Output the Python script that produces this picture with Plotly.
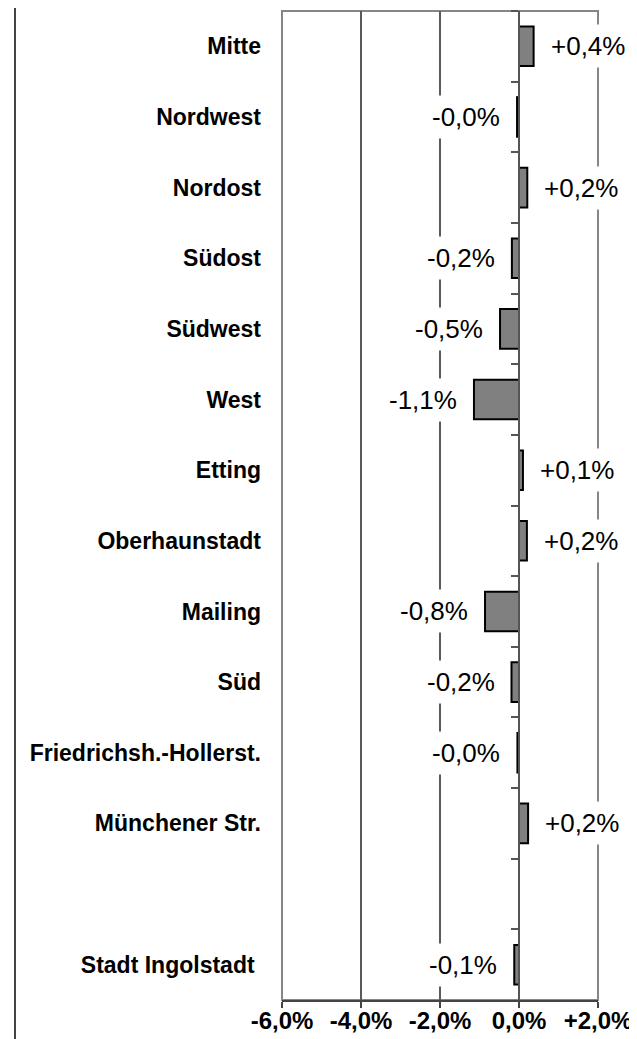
import plotly.graph_objects as go

categories = ["Mitte", "Nordwest", "Nordost", "Südost", "Südwest", "West", "Etting",
              "Oberhaunstadt", "Mailing", "Süd", "Friedrichsh.-Hollerst.",
              "Münchener Str.", " ", "Stadt Ingolstadt\u00a0"]
values = [0.37, -0.05, 0.21, -0.18, -0.48, -1.14, 0.10, 0.20, -0.86, -0.19, -0.04,
          0.23, None, -0.12]
labels = ["+0,4%", "-0,0%", "+0,2%", "-0,2%", "-0,5%", "-1,1%", "+0,1%", "+0,2%",
          "-0,8%", "-0,2%", "-0,0%", "+0,2%", "", "-0,1%"]
tick_vals = [-6, -4, -2, 0, 2]
tick_text = ["-6,0%", "-4,0%", "-2,0%", "0,0%", "+2,0%"]

FONT = "Liberation Sans, Arial, sans-serif"
n = len(categories)

# the page body has an 8px margin; the figure starts at (8, 8) in the window
W, H = 629, 1031
ML, MR, MT, MB = 274, 39, 3, 39
plot_w = W - ML - MR

fig = go.Figure()
fig.add_trace(go.Bar(
    x=values, y=categories, orientation="h",
    marker=dict(color="#808080", line=dict(color="black", width=2)),
    width=0.56, hoverinfo="skip", showlegend=False,
))
fig.add_trace(go.Scatter(
    x=[0] * n, y=categories, yaxis="y2", mode="markers",
    marker=dict(opacity=0), hoverinfo="skip", showlegend=False,
))

for c, v, t in zip(categories, values, labels):
    if v is None:
        continue
    pos = v >= 0
    fig.add_annotation(
        x=v, y=c, xref="x", yref="y", text=t, showarrow=False,
        xanchor="left" if pos else "right", xshift=10 if pos else -10,
        bgcolor="white", borderpad=6,
        font=dict(family=FONT, size=26, color="black"),
    )

# plot border
fig.add_shape(type="rect", xref="paper", yref="paper", x0=0, x1=1, y0=0, y1=1,
              line=dict(color="#868686", width=2), layer="below")
# stray vertical line at the left edge of the image
sx = (7 - ML) / plot_w
fig.add_shape(type="line", xref="paper", yref="paper", x0=sx, x1=sx,
              y0=-0.05, y1=1.02, line=dict(color="#444444", width=2))

fig.update_layout(
    width=W, height=H,
    margin=dict(l=ML, r=MR, t=MT, b=MB, autoexpand=False),
    plot_bgcolor="white", paper_bgcolor="white",
    bargap=0.44,
    xaxis=dict(
        range=[-6, 2], tickvals=tick_vals, ticktext=tick_text,
        showgrid=True, gridcolor="#5a5a5a", gridwidth=1.5,
        zeroline=False, showline=True, linecolor="#444444", linewidth=2,
        ticks="outside", ticklen=6, tickcolor="#444444", tickwidth=1.5,
        tickfont=dict(family=FONT, size=24, color="black", weight="bold"),
        automargin=False, ticklabeloverflow="allow", ticklabelstandoff=-8,
        fixedrange=True,
    ),
    yaxis=dict(
        type="category", categoryorder="array", categoryarray=categories,
        range=[n - 0.5, -0.5], showgrid=False, zeroline=False, showline=False,
        ticks="", ticklabelstandoff=20, automargin=False,
        tickfont=dict(family=FONT, size=23, color="black", weight="bold"),
    ),
    yaxis2=dict(
        type="category", categoryorder="array", categoryarray=categories,
        range=[n - 0.5, -0.5], overlaying="y", anchor="free", position=0.75,
        side="left", showgrid=False, zeroline=False, showline=True,
        linecolor="#555555", linewidth=2, ticks="outside", ticklen=7,
        tickson="boundaries", tickcolor="#555555", tickwidth=1.5,
        showticklabels=False, automargin=False,
    ),
)

fig.write_html("out.html")
